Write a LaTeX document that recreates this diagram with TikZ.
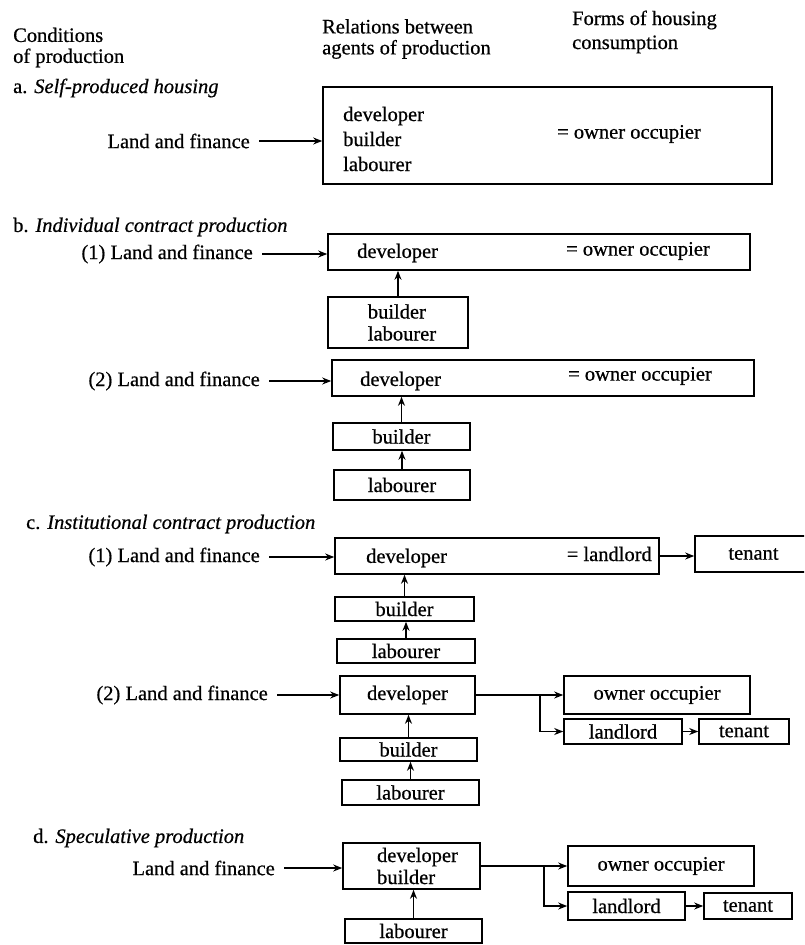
\documentclass[tikz,border=0pt]{standalone}
\usepackage{fontspec}
\setmainfont{Liberation Serif}[FakeBold=0.6]
\usetikzlibrary{arrows.meta}

\begin{document}
\begin{tikzpicture}[x=1pt,y=-1pt,>={Stealth[length=9pt,width=7pt]},
  font=\fontsize{20.5}{22}\selectfont,
  agent/.style={draw,line width=1.6pt,inner sep=0pt,align=left},
  lbl/.style={inner sep=0pt,align=left},
  flow/.style={->,line width=1.6pt}]
\clip (0,0) rectangle (804,945);

\node[lbl,anchor=west,font=\fontsize{20.5}{21}\selectfont] (condH) at (13,47.5) {Conditions\\of production};
\node[lbl,anchor=west,font=\fontsize{20.5}{21}\selectfont] (relH) at (322,39) {Relations between\\agents of production};
\node[lbl,anchor=west,font=\fontsize{20.5}{24}\selectfont] (formH) at (572,32) {Forms of housing\\consumption};

\node[lbl,anchor=west] (secA) at (13,88) {a. \textit{Self-produced housing}};
\node[lbl,anchor=east] (landA) at (250,141) {Land and finance};
\node[agent,minimum width=449pt,minimum height=97pt] (boxA) at (547.5,135.5) {};
\node[lbl,anchor=west,font=\fontsize{20.5}{25}\selectfont] (listA) at (343,139) {developer\\builder\\labourer};
\node[lbl,anchor=west] (ownA) at (557,134) {= owner occupier};
\draw[flow,shorten <=9pt] (landA.east) -- (landA.east -| boxA.west);

\node[lbl,anchor=west] (secB) at (13,227) {b. \textit{Individual contract production}};
\node[lbl,anchor=east] (landB1) at (253,254) {(1) Land and finance};
\node[agent,minimum width=422pt,minimum height=36pt] (devB1) at (539,252) {};
\node[lbl,anchor=west] (devB1t) at (357,253) {developer};
\node[lbl,anchor=east] (ownB1) at (710,251) {= owner occupier};
\node[agent,minimum width=140pt,minimum height=51pt] (blB1) at (398,322.5) {\hspace*{8pt}builder\\\hspace*{8pt}labourer};
\draw[flow,shorten <=9pt] (landB1.east) -- (landB1.east -| devB1.west);
\draw[flow] (blB1.north) -- (blB1.north |- devB1.south);

\node[lbl,anchor=east] (landB2) at (260,381) {(2) Land and finance};
\node[agent,minimum width=422pt,minimum height=36pt] (devB2) at (543,378) {};
\node[lbl,anchor=west] (devB2t) at (360,381) {developer};
\node[lbl,anchor=east] (ownB2) at (712,376) {= owner occupier};
\node[agent,minimum width=137pt,minimum height=27pt] (bB2) at (401.5,436.5) {builder};
\node[agent,minimum width=136pt,minimum height=30pt] (lB2) at (402,485) {labourer};
\draw[flow,shorten <=9pt] (landB2.east) -- (landB2.east -| devB2.west);
\draw[flow] (lB2.north) -- (lB2.north |- bB2.south);
\draw[flow] (bB2.north) -- (bB2.north |- devB2.south);

\node[lbl,anchor=west] (secC) at (26,524) {c. \textit{Institutional contract production}};
\node[lbl,anchor=east] (landC1) at (260,557) {(1) Land and finance};
\node[agent,minimum width=324pt,minimum height=36pt] (devC1) at (497,556) {};
\node[lbl,anchor=west] (devC1t) at (366,558) {developer};
\node[lbl,anchor=east] (lordC1) at (652,554) {= landlord};
\node[agent,minimum width=117pt,minimum height=36pt] (tenC1) at (753.5,554) {tenant};
\node[agent,minimum width=139pt,minimum height=24pt] (bC1) at (404.5,609) {builder};
\node[agent,minimum width=138pt,minimum height=24pt] (lC1) at (406,651) {labourer};
\draw[flow,shorten <=9pt] (landC1.east) -- (landC1.east -| devC1.west);
\draw[flow] (devC1.east) -- (devC1.east -| tenC1.west);
\draw[flow] (lC1.north) -- (lC1.north |- bC1.south);
\draw[flow] (bC1.north) -- (bC1.north |- devC1.south);

\node[lbl,anchor=east] (landC2) at (268,695) {(2) Land and finance};
\node[agent,minimum width=135pt,minimum height=38pt] (devC2) at (407.5,695) {developer};
\node[agent,minimum width=186pt,minimum height=38pt] (ownC2) at (657,695) {owner occupier};
\node[agent,minimum width=118pt,minimum height=25pt] (lordC2) at (623,731.5) {landlord};
\node[agent,minimum width=90pt,minimum height=25pt] (tenC2) at (744,731.5) {tenant};
\node[agent,minimum width=137pt,minimum height=23pt] (bC2) at (408.5,749.5) {builder};
\node[agent,minimum width=137pt,minimum height=25pt] (lC2) at (410.5,792.5) {labourer};
\coordinate (forkC2) at (540,695);
\draw[flow,shorten <=9pt] (landC2.east) -- (landC2.east -| devC2.west);
\draw[line width=1.6pt] (devC2.east) -- (forkC2);
\draw[flow] (forkC2) -- (ownC2.west);
\draw[flow] (forkC2) |- (lordC2.west);
\draw[flow] (lordC2) -- (tenC2);
\draw[flow] (lC2.north) -- (lC2.north |- bC2.south);
\draw[flow] (bC2.north) -- (bC2.north |- devC2.south);

\node[lbl,anchor=west] (secD) at (33,838) {d. \textit{Speculative production}};
\node[lbl,anchor=east] (landD) at (275,868) {Land and finance};
\node[agent,minimum width=137pt,minimum height=46pt] (devD) at (411.5,866) {\hspace*{12pt}developer\\\hspace*{12pt}builder};
\node[agent,minimum width=186pt,minimum height=40pt] (ownD) at (661,866) {owner occupier};
\node[agent,minimum width=117pt,minimum height=28pt] (lordD) at (626.5,906) {landlord};
\node[agent,minimum width=88pt,minimum height=26pt] (tenD) at (748,906) {tenant};
\node[agent,minimum width=137pt,minimum height=24pt] (lD) at (413.5,931) {labourer};
\coordinate (forkD) at (544,866);
\draw[flow,shorten <=9pt] (landD.east) -- (landD.east -| devD.west);
\draw[line width=1.6pt] (devD.east) -- (forkD);
\draw[flow] (forkD) -- (ownD.west);
\draw[flow] (forkD) |- (lordD.west);
\draw[flow] (lordD) -- (tenD);
\draw[flow] (lD.north) -- (lD.north |- devD.south);
\end{tikzpicture}
\end{document}
